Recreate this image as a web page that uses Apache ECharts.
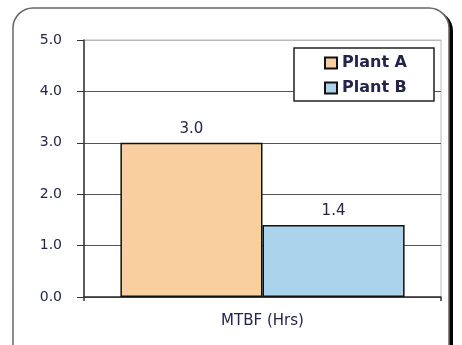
<!DOCTYPE html>
<html>
<head>
<meta charset="utf-8">
<script src="https://cdn.jsdelivr.net/npm/echarts@6/dist/echarts.min.js"></script>
<style>
  html, body { margin: 0; padding: 0; background: #fff; }
  #chart { width: 462px; height: 345px; }
</style>
</head>
<body>
<div id="chart"></div>
<script>
// MTBF comparison between two plants
const categories = ['MTBF (Hrs)'];
const plantNames = ['Plant A', 'Plant B'];
const plantA = [3.0];
const plantB = [1.4];
const yTicks = [0, 1, 2, 3, 4, 5];

const textColor = '#24244a';
const font = 'DejaVu Sans, Liberation Sans, Arial, sans-serif';

const chart = echarts.init(document.getElementById('chart'), null, { renderer: 'canvas' });

chart.setOption({
  animation: false,
  backgroundColor: '#fff',
  graphic: [
    {
      // dark drop edge on the right of the frame
      type: 'rect',
      z: -20,
      silent: true,
      shape: { x: 17, y: 11, width: 436, height: 380, r: 20 },
      style: { fill: '#000' }
    },
    {
      type: 'rect',
      z: -10,
      silent: true,
      shape: { x: 13, y: 8, width: 436, height: 380, r: 20 },
      style: { fill: '#fff', stroke: '#666', lineWidth: 1.5 }
    }
  ],
  grid: {
    left: 84, right: 21, top: 40, bottom: 48,
    show: true,
    borderColor: '#b8b8b8',
    borderWidth: 1,
    backgroundColor: 'transparent'
  },
  legend: {
    data: plantNames,
    orient: 'vertical',
    left: 294,
    top: 48,
    icon: 'rect',
    itemWidth: 12,
    itemHeight: 11,
    itemGap: 9,
    padding: [7, 27, 5, 30],
    backgroundColor: '#fff',
    borderColor: '#222',
    borderWidth: 1.5,
    borderRadius: 0,
    textStyle: { fontFamily: font, fontSize: 16, fontWeight: 'bold', color: textColor }
  },
  xAxis: {
    type: 'category',
    data: categories,
    axisLine: { show: true, lineStyle: { color: '#333', width: 1.5 } },
    axisTick: { show: true, length: 4, lineStyle: { color: '#333', width: 1.5 } },
    axisLabel: { fontFamily: font, fontSize: 15, color: textColor, margin: 17 }
  },
  yAxis: {
    type: 'value',
    min: yTicks[0],
    max: yTicks[yTicks.length - 1],
    interval: 1,
    axisLine: { show: true, lineStyle: { color: '#333', width: 1.5 } },
    axisTick: { show: true, length: 7, lineStyle: { color: '#333', width: 1 } },
    axisLabel: {
      fontFamily: font, fontSize: 14, color: textColor, margin: 22,
      formatter: v => v.toFixed(1)
    },
    splitLine: {
      show: true,
      lineStyle: { color: ['#555', '#555', '#555', '#555', '#555', '#b8b8b8'], width: 1 }
    }
  },
  series: [
    {
      name: plantNames[0],
      type: 'bar',
      data: plantA,
      barGap: '0%',
      barCategoryGap: '20.4%',
      itemStyle: { color: '#f9cfa0', borderColor: '#111', borderWidth: 1.5 },
      label: {
        show: true, position: 'top', distance: 6,
        fontFamily: font, fontSize: 15, color: textColor,
        formatter: p => p.value.toFixed(1)
      }
    },
    {
      name: plantNames[1],
      type: 'bar',
      data: plantB,
      barGap: '0%',
      barCategoryGap: '20.4%',
      itemStyle: { color: '#abd4ec', borderColor: '#111', borderWidth: 1.5 },
      label: {
        show: true, position: 'top', distance: 6,
        fontFamily: font, fontSize: 15, color: textColor,
        formatter: p => p.value.toFixed(1)
      }
    }
  ]
});
</script>
</body>
</html>
